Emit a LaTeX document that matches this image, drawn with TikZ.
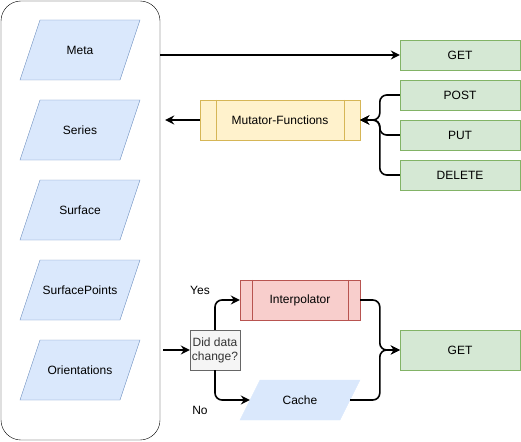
\documentclass[tikz,border=0pt]{standalone}
\usepackage{fontspec}
\setmainfont{Liberation Sans}
\usetikzlibrary{positioning, arrows.meta}
\definecolor{blueFill}{HTML}{DAE8FC}
\definecolor{blueLine}{HTML}{6C8EBF}
\definecolor{greenFill}{HTML}{D5E8D4}
\definecolor{greenLine}{HTML}{82B366}
\definecolor{yellowFill}{HTML}{FFF2CC}
\definecolor{yellowLine}{HTML}{D6B656}
\definecolor{redFill}{HTML}{F8CECC}
\definecolor{redLine}{HTML}{B85450}
\definecolor{grayFill}{HTML}{F5F5F5}
\definecolor{grayLine}{HTML}{666666}
\definecolor{grayText}{HTML}{333333}

% parallelogram data shape: name, x, y, half width, half height, text, border
\newcommand{\datanode}[7]{%
    \draw[fill=blueFill, draw=#7] (#2-#4,#3+#5) -- (#2-#4+20,#3-#5) -- (#2+#4,#3-#5)
        -- (#2+#4-20,#3+#5) -- cycle;
    \node[inner sep=0pt, minimum width={2*#4-20}, minimum height={2*#5}] (#1) at (#2,#3) {#6};}

\begin{document}
\begin{tikzpicture}[x=1pt, y=-1pt, font=\fontsize{12}{14}\selectfont,
    endpoint/.style={rectangle, minimum width=120pt, minimum height=30pt, inner sep=0pt,
        fill=greenFill, draw=greenLine},
    procbox/.style={rectangle, minimum height=40pt, inner sep=0pt},
    conn/.style={line width=1.6pt, -{Stealth[length=9pt, width=9pt, inset=3pt]}},
    elbow/.style={conn, rounded corners=7pt}]
    \useasboundingbox (0,0) rectangle (521,441);

    % Container with the data shapes
    \node[draw, rounded corners=20pt, minimum width=159pt, minimum height=439pt] (box) at (80.5,220.5) {};
    \datanode{meta}{80}{50}{60}{30}{Meta}{blueLine}
    \datanode{series}{80}{130}{60}{30}{Series}{blueLine}
    \datanode{surface}{80}{210}{60}{30}{Surface}{blueLine}
    \datanode{points}{80}{290}{60}{30}{SurfacePoints}{blueLine}
    \datanode{orient}{80}{370}{60}{30}{Orientations}{blueLine}

    % Endpoints
    \node[endpoint] (get1) at (460,55) {GET};
    \node[endpoint] (post) at (460,95) {POST};
    \node[endpoint] (put) at (460,135) {PUT};
    \node[endpoint] (delete) at (460,175) {DELETE};
    \node[endpoint, minimum height=40pt] (get2) at (460,350) {GET};

    % Processes
    \node[procbox, minimum width=160pt, fill=yellowFill, draw=yellowLine] (mut) at (280,120) {Mutator-Functions};
    \draw[yellowLine] ([xshift=16pt]mut.north west) -- ([xshift=16pt]mut.south west);
    \draw[yellowLine] ([xshift=-16pt]mut.north east) -- ([xshift=-16pt]mut.south east);
    \node[procbox, minimum width=120pt, fill=redFill, draw=redLine] (interp) at (300,300) {Interpolator};
    \draw[redLine] ([xshift=12pt]interp.north west) -- ([xshift=12pt]interp.south west);
    \draw[redLine] ([xshift=-12pt]interp.north east) -- ([xshift=-12pt]interp.south east);
    \datanode{cache}{300}{400}{60}{20}{Cache}{blueFill}
    \node[rectangle, minimum width=50pt, minimum height=40pt, inner sep=0pt, align=center,
        fill=grayFill, draw=grayLine, text=grayText] (chg) at (215,350) {Did data\\change?};
    \node (yes) at (200,290) {Yes};
    \node (no) at (200,410) {No};

    % Connectors
    \draw[conn] (box.east |- get1.west) -- (get1.west);
    \draw[conn] (mut.west) -- ([xshift=5pt]box.east |- mut.west);
    \draw[elbow] (post.west) -- ([xshift=-20pt]post.west) |- (mut.east);
    \draw[elbow] (put.west) -- ([xshift=-20pt]put.west) |- (mut.east);
    \draw[elbow] (delete.west) -- ([xshift=-20pt]delete.west) |- (mut.east);
    \draw[conn] ([xshift=3pt]box.east |- chg.west) -- (chg.west);
    \draw[elbow] (chg.north) |- (interp.west);
    \draw[elbow] (chg.south) |- (cache.west);
    \draw[elbow] (interp.east) -| ([xshift=-20pt]get2.west) -- (get2.west);
    \draw[elbow] (cache.east) -| ([xshift=-20pt]get2.west) -- (get2.west);
\end{tikzpicture}
\end{document}
